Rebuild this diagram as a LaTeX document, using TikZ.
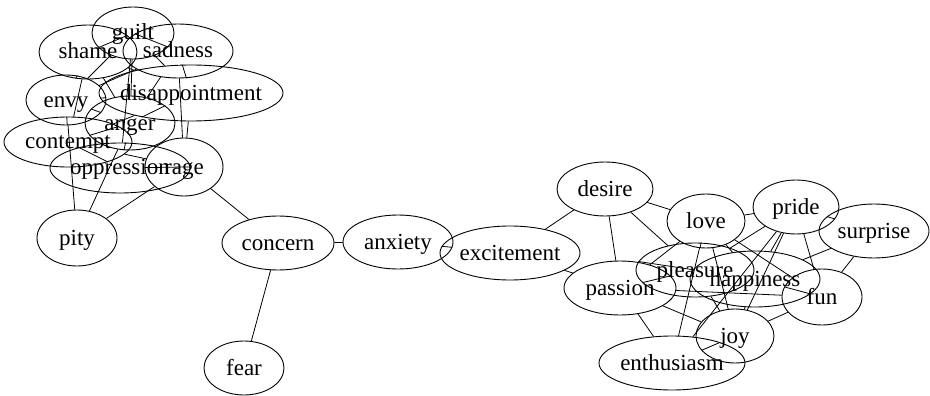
\documentclass[tikz,border=0pt]{standalone}
\usepackage{fontspec}
\setmainfont{Liberation Serif}
\usetikzlibrary{shapes.geometric}

\tikzset{
  emo/.style={draw, ellipse, inner sep=0pt, line width=0.9pt},
  emotext/.style={text height=19pt, text depth=5pt, inner sep=0pt},
  link/.style={line width=0.8pt},
}
% \emotion{name}{text}{position}{width}{height}
\newcommand\emotion[5]{%
  \node[emo, minimum width=#4pt, minimum height=#5pt,
        label={[emotext]center:#2}] (#1) at (#3) {};}

\begin{document}
\begin{tikzpicture}[x=1pt, y=-1pt, font=\fontsize{23}{23}\selectfont]
\useasboundingbox (0,0) rectangle (930,396);

% negative cluster
\emotion{shame}{shame}{88,52}{98}{54}
\emotion{guilt}{guilt}{133,33}{82}{52}
\emotion{sadness}{sadness}{178,51}{110}{54}
\emotion{disappointment}{disappointment}{191,93}{184}{56}
\emotion{envy}{envy}{66,100}{80}{50}
\emotion{anger}{anger}{130,123}{90}{54}
\emotion{contempt}{contempt}{68,142}{128}{50}
\emotion{oppression}{oppression}{120,168}{140}{50}
\emotion{rage}{rage}{184,167}{78}{58}
\emotion{pity}{pity}{77,238}{80}{56}

% bridge
\emotion{concern}{concern}{278,243}{112}{54}
\emotion{anxiety}{anxiety}{398,242}{110}{54}
\emotion{fear}{fear}{244,368}{80}{54}
\emotion{excitement}{excitement}{510,253}{140}{54}

% positive cluster
\emotion{desire}{desire}{605,189}{96}{54}
\emotion{love}{love}{706,221}{78}{54}
\emotion{pride}{pride}{796,207}{86}{54}
\emotion{surprise}{surprise}{874,231}{110}{54}
\emotion{pleasure}{pleasure}{695,270}{118}{54}
\emotion{happiness}{happiness}{755,279}{130}{56}
\emotion{passion}{passion}{620,288}{112}{54}
\emotion{fun}{fun}{822,297}{80}{56}
\emotion{joy}{joy}{735,336}{78}{54}
\emotion{enthusiasm}{enthusiasm}{672,363}{146}{54}

% links
\foreach \a/\b in {
  shame/guilt, shame/envy, shame/anger, shame/disappointment, shame/contempt,
  guilt/sadness, guilt/anger, guilt/envy, guilt/disappointment, guilt/oppression,
  sadness/disappointment, sadness/anger, sadness/rage, sadness/envy,
  disappointment/anger, disappointment/rage, disappointment/envy, disappointment/contempt,
  envy/anger, envy/contempt, envy/pity,
  anger/contempt, anger/oppression, anger/rage, anger/pity,
  contempt/oppression, contempt/rage, oppression/rage,
  pity/rage, rage/concern,
  concern/anxiety, concern/fear, anxiety/excitement,
  excitement/desire, excitement/passion,
  desire/love, desire/passion, desire/pleasure,
  love/pride, love/passion, love/pleasure, love/happiness, love/joy, love/enthusiasm, love/fun,
  pride/surprise, pride/pleasure, pride/happiness, pride/joy, pride/enthusiasm, pride/fun,
  surprise/happiness, surprise/fun,
  pleasure/passion, pleasure/happiness, pleasure/joy,
  happiness/fun, happiness/joy,
  passion/joy, passion/enthusiasm, passion/fun,
  fun/joy, joy/enthusiasm}
  \draw[link] (\a) -- (\b);
\end{tikzpicture}
\end{document}
